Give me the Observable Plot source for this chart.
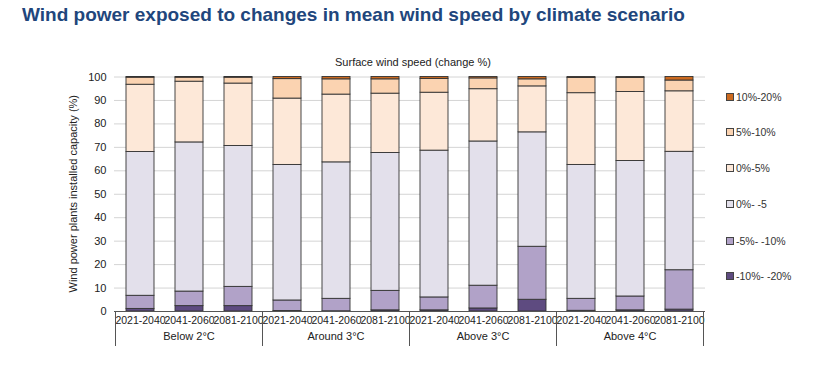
<!DOCTYPE html>
<html><head><meta charset="utf-8">
<script src="https://cdn.jsdelivr.net/npm/d3@7"></script>
<script src="https://cdn.jsdelivr.net/npm/@observablehq/plot@0.6"></script>
<style>
body{margin:0;background:#fff;font-family:"Liberation Sans",Arial,sans-serif;}
#wrap{position:relative;width:813px;height:367px;overflow:hidden;background:#fff;}
#title{position:absolute;left:22px;top:4px;font-size:19px;font-weight:bold;color:#21467c;white-space:nowrap;}
#subtitle{position:absolute;left:313px;width:200px;top:56px;text-align:center;font-size:11px;color:#222;}
#chart{position:absolute;left:0;top:50px;}
#legend{position:absolute;left:726px;top:0;}
.li{position:absolute;left:0;white-space:nowrap;font-size:10.5px;color:#333;line-height:12px;}
.sw{display:inline-block;width:6px;height:6px;border:1px solid #444;margin-right:2px;vertical-align:0px;}
</style></head>
<body>
<div id="wrap">
  <div id="title">Wind power exposed to changes in mean wind speed by climate scenario</div>
  <div id="subtitle">Surface wind speed (change %)</div>
  <div id="chart"></div>
  <div id="legend"></div>
</div>
<script>
const scenarios = ["Below 2°C", "Around 3°C", "Above 3°C", "Above 4°C"];
const periods = ["2021-2040", "2041-2060", "2081-2100"];
// stacked classes, bottom to top
const classes = ["-10%- -20%", "-5%- -10%", "0%- -5", "0%-5%", "5%-10%", "10%-20%"];
const colors = ["#5e4b80", "#b1a2c8", "#e3e0eb", "#fde8d8", "#fbd3b1", "#cc6a20"];
// values per bar (scenario-major, period-minor), in % of installed capacity
const neg10_20 = [1.1, 2.3, 2.3, 0.2, 0.1, 0.5, 0.5, 1.3, 5.0, 0.3, 0.5, 0.8];
const neg5_10  = [5.6, 6.2, 8.2, 4.5, 5.3, 8.3, 5.5, 9.7, 22.6, 5.1, 5.9, 16.8];
const neg0_5   = [61.3, 63.6, 60.1, 57.8, 58.2, 58.8, 62.6, 61.5, 48.8, 57.1, 57.8, 50.5];
const pos0_5   = [28.7, 25.9, 26.6, 28.3, 28.9, 25.3, 24.7, 22.3, 19.6, 30.6, 29.4, 25.8];
const pos5_10  = [3.0, 1.7, 2.5, 8.3, 6.5, 6.1, 5.9, 4.6, 3.0, 6.5, 6.0, 4.6];
const pos10_20 = [0.3, 0.3, 0.3, 0.9, 1.0, 1.0, 0.8, 0.6, 1.0, 0.4, 0.4, 1.5];
const yTicks = [0, 10, 20, 30, 40, 50, 60, 70, 80, 90, 100];
const yLabel = "Wind power plants installed capacity (%)";

const series = [neg10_20, neg5_10, neg0_5, pos0_5, pos5_10, pos10_20];
const keys = [];
scenarios.forEach(s => periods.forEach(p => keys.push(s + "|" + p)));
const rows = [];
keys.forEach((k, i) => {
  classes.forEach((c, j) => rows.push({key: k, cls: c, value: series[j][i]}));
});

const plot = Plot.plot({
  width: 813,
  height: 317,
  marginLeft: 114,
  marginRight: 108,
  marginTop: 26.5,
  marginBottom: 56,
  style: {fontFamily: "'Liberation Sans', Arial, sans-serif", fontSize: "11px", color: "#222", background: "transparent"},
  x: {domain: keys, paddingInner: 0.43, paddingOuter: 0.215, axis: null},
  y: {domain: [0, 100], axis: null},
  color: {domain: classes, range: colors},
  marks: [
    Plot.gridY(yTicks, {stroke: "#d4d4d4", strokeOpacity: 1}),
    Plot.barY(rows, Plot.stackY({x: "key", y: "value", fill: "cls", order: null, stroke: "#333", strokeWidth: 0.9})),
    Plot.axisY(yTicks, {tickSize: 0, tickPadding: 8, label: null}),
    Plot.axisX({tickSize: 0, tickPadding: 5, tickFormat: d => d.split("|")[1], fontSize: "10.5px", label: null}),
    Plot.ruleY([0], {stroke: "#555", strokeWidth: 1})
  ]
});
document.getElementById("chart").appendChild(plot);

// scenario group labels, separators and y title, positioned via Plot's own scales
const xs = plot.scale("x"), ys = plot.scale("y");
const step = xs.step, bw = xs.bandwidth;
const y0 = ys.apply(0);
const yMid = (ys.apply(0) + ys.apply(100)) / 2;
const g = d3.select(plot).append("g").attr("font-size", "11px").attr("fill", "#222");
g.append("text")
  .attr("transform", `translate(${xs.range[0] - 37},${yMid}) rotate(-90)`)
  .attr("text-anchor", "middle").text(yLabel);
scenarios.forEach((s, i) => {
  const first = xs.apply(s + "|" + periods[0]);
  const last = xs.apply(s + "|" + periods[periods.length - 1]);
  const left = first - (step - bw) / 2;
  const right = last + bw + (step - bw) / 2;
  g.append("text").attr("x", (left + right) / 2).attr("y", y0 + 29).attr("text-anchor", "middle").text(s);
  if (i === 0) g.append("line").attr("x1", left).attr("x2", left).attr("y1", y0).attr("y2", y0 + 35).attr("stroke", "#555");
  g.append("line").attr("x1", right).attr("x2", right).attr("y1", y0).attr("y2", y0 + 35).attr("stroke", "#555");
});

// legend
const legendY = [97, 132, 168, 204, 241, 276];
const leg = document.getElementById("legend");
classes.slice().reverse().forEach((c, i) => {
  const div = document.createElement("div");
  div.className = "li";
  div.style.top = (legendY[i] - 6) + "px";
  const sw = document.createElement("span");
  sw.className = "sw";
  sw.style.background = colors[classes.length - 1 - i];
  div.appendChild(sw);
  div.appendChild(document.createTextNode(c));
  leg.appendChild(div);
});
</script>
</body></html>
